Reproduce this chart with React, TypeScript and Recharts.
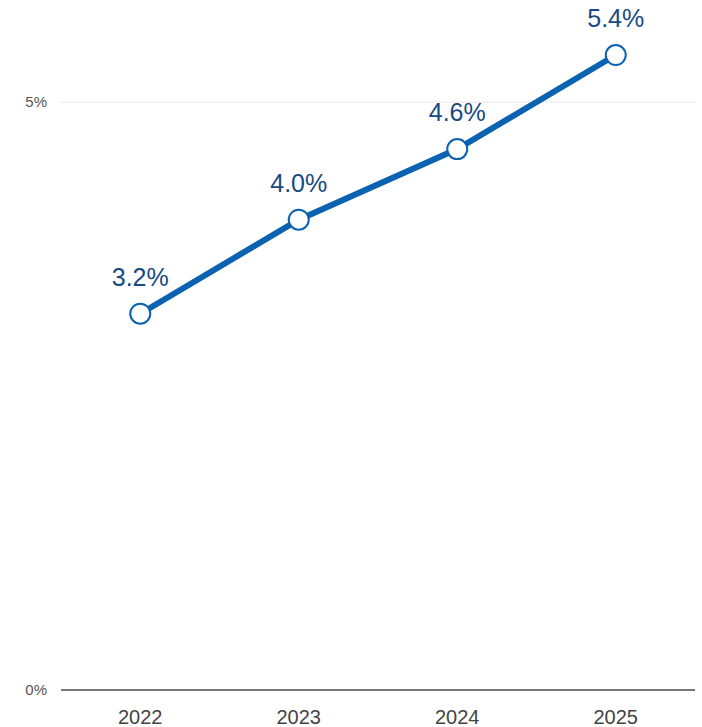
import { CartesianGrid, LabelList, Line, LineChart, XAxis, YAxis } from "recharts";

const years = ["2022", "2023", "2024", "2025"];
const rates = [3.2, 4.0, 4.6, 5.4];
const yTicks = [0, 5];
const gridValues = [5];

const rows = years.map((year, i) => ({ year, rate: rates[i] }));

const font = "'Liberation Sans', Arial, sans-serif";

export default function App() {
  return (
    <div style={{ position: "absolute", left: 0, top: 0, fontFamily: font }}>
      <LineChart width={702} height={727} data={rows} margin={{ top: 8, right: 7, bottom: 0, left: 0 }}>
        <CartesianGrid vertical={false} horizontalValues={gridValues} stroke="#e6e6e6" />
        <XAxis
          dataKey="year"
          scale="band"
          height={37}
          tickLine={false}
          tickMargin={14}
          axisLine={{ stroke: "#777", strokeWidth: 2 }}
          tick={{ fontSize: 20, fill: "#444", fontFamily: font }}
        />
        <YAxis
          width={61}
          domain={[0, 5.8]}
          ticks={yTicks}
          tickFormatter={(v: number) => `${v}%`}
          axisLine={false}
          tickLine={false}
          tickMargin={8}
          tick={{ fontSize: 15, fill: "#555", fontFamily: font }}
        />
        <Line
          isAnimationActive={false}
          dataKey="rate"
          stroke="#0a62b0"
          strokeWidth={6}
          dot={{ r: 10, fill: "#fff", stroke: "#0a62b0", strokeWidth: 2 }}
          activeDot={false}
        >
          <LabelList
            dataKey="rate"
            position="top"
            offset={28}
            formatter={(v: number) => `${v.toFixed(1)}%`}
            style={{ fontSize: 25, fill: "#174a84", fontFamily: font }}
          />
        </Line>
      </LineChart>
    </div>
  );
}
